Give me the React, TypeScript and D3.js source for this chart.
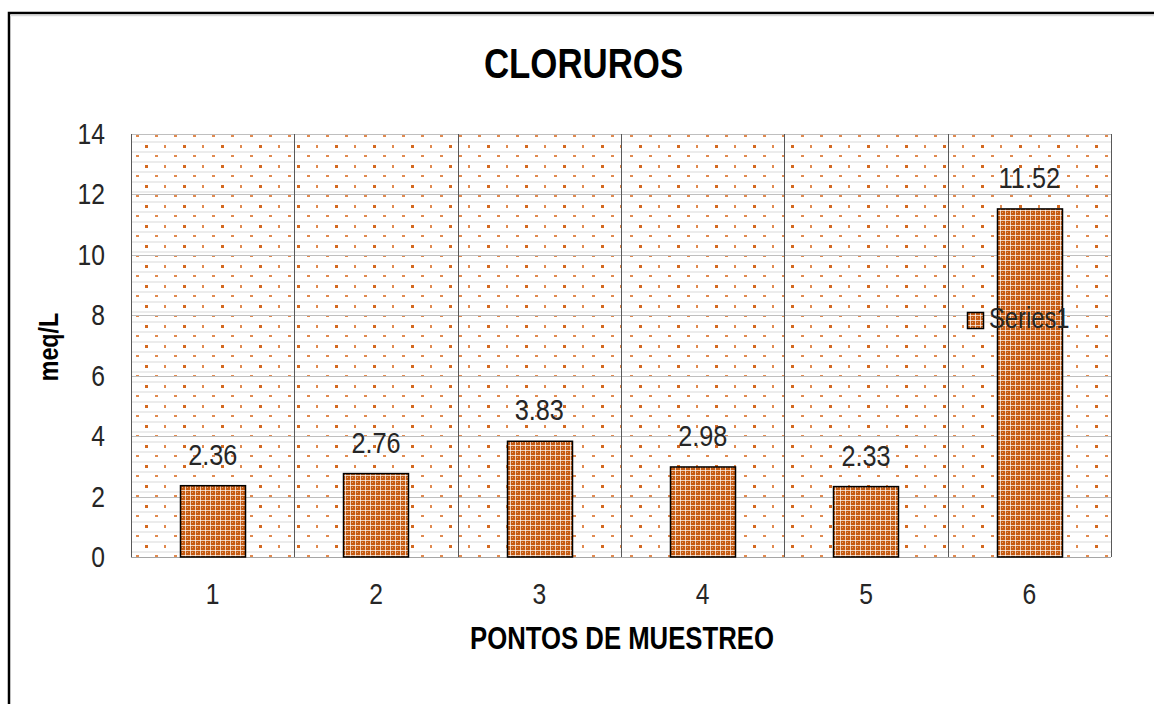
import React from "react";
import * as d3 from "d3";

const categories = ["1", "2", "3", "4", "5", "6"];
const values = [2.36, 2.76, 3.83, 2.98, 2.33, 11.52];
const labels = ["2.36", "2.76", "3.83", "2.98", "2.33", "11.52"];
const yTicks = [0, 2, 4, 6, 8, 10, 12, 14];
const seriesName = "Series1";
const title = "CLORUROS";
const xTitle = "PONTOS DE MUESTREO";
const yTitle = "meq/L";

const W = 1154;
const H = 704;
const FONT = "'Liberation Sans Narrow', 'Arial Narrow', 'Liberation Sans', Arial, sans-serif";
const ORANGE = "#c55a11";

type NTProps = {
  x: number;
  y: number;
  size: number;
  sx?: number;
  anchor?: "start" | "middle" | "end";
  bold?: boolean;
  fill?: string;
  rotate?: number;
  children: React.ReactNode;
};

function NText({ x, y, size, sx = 0.84, anchor = "start", bold = false, fill = "#262626", rotate = 0, children }: NTProps) {
  return (
    <g transform={`translate(${x},${y}) rotate(${rotate}) scale(${sx},1)`}>
      <text x={0} y={0} textAnchor={anchor} fontFamily={FONT} fontSize={size} fontWeight={bold ? "bold" : "normal"} fill={fill}>
        {children}
      </text>
    </g>
  );
}

export default function App() {
  const plot = { left: 131, right: 1111, top: 134, bottom: 557 };
  const x = d3.scaleBand<string>().domain(categories).range([plot.left, plot.right]).paddingInner(0).paddingOuter(0);
  const y = d3.scaleLinear().domain([0, 14]).range([plot.bottom, plot.top]);
  const bw = x.bandwidth() * 0.4;
  const bounds = categories.map((c) => x(c) as number).concat([plot.right]);

  return (
    <div style={{ position: "absolute", left: 0, top: 0, width: W, height: H, overflow: "hidden", background: "#fff" }}>
      <svg width={W} height={H} style={{ display: "block" }}>
        <defs>
          <pattern id="bg" patternUnits="userSpaceOnUse" width={38} height={20} x={plot.left} y={plot.top}>
            <rect width={38} height={20} fill="#fff" />
            <rect x={0} y={7} width={38} height={2} fill="#ececec" />
            <rect x={0} y={17} width={38} height={2} fill="#ececec" />
            <rect x={5} y={1} width={3} height={2} fill="#e08a50" />
            <rect x={24} y={1} width={3} height={2} fill="#e08a50" />
            <rect x={14} y={11} width={3} height={3} fill="#d46a22" />
            <rect x={33} y={11} width={2} height={3} fill="#e08a50" />
          </pattern>
          <pattern id="barpat" patternUnits="userSpaceOnUse" width={5} height={5}>
            <rect width={5} height={5} fill={ORANGE} />
            <rect x={0} y={0} width={1} height={5} fill="#ffffff" fillOpacity={0.7} />
            <rect x={0} y={0} width={5} height={1} fill="#ffffff" fillOpacity={0.7} />
            <rect x={2} y={2} width={1} height={1} fill="#ffffff" fillOpacity={0.45} />
          </pattern>
        </defs>

        {/* outer frame */}
        <rect x={9} y={13} width={W + 20} height={H + 20} fill="#fff" stroke="#000" strokeWidth={2.5} />
        <line x1={10} x2={W} y1={15.5} y2={15.5} stroke="#d9d9d9" strokeWidth={1.5} />

        {/* plot background */}
        <rect x={plot.left} y={plot.top} width={plot.right - plot.left} height={plot.bottom - plot.top} fill="url(#bg)" />

        {/* horizontal major gridlines */}
        {yTicks.map((t) => (
          <line key={"g" + t} x1={plot.left} x2={plot.right} y1={Math.round(y(t)) + 0.5} y2={Math.round(y(t)) + 0.5} stroke="#bfbfbf" strokeWidth={1} />
        ))}

        {/* vertical category lines */}
        {bounds.map((b, i) => (
          <line key={"v" + i} x1={Math.round(b) + 0.5} x2={Math.round(b) + 0.5} y1={plot.top} y2={plot.bottom} stroke="#595959" strokeWidth={1} />
        ))}
        <line x1={plot.left} x2={plot.right} y1={plot.bottom + 0.5} y2={plot.bottom + 0.5} stroke="#a6a6a6" strokeWidth={1} />

        {/* bars */}
        {values.map((v, i) => {
          const cx = (x(categories[i]) as number) + x.bandwidth() / 2;
          return (
            <rect key={"b" + i} x={Math.round(cx - bw / 2) + 0.5} y={y(v)} width={Math.round(bw)} height={plot.bottom - y(v)} fill="url(#barpat)" stroke="#000" strokeWidth={1.5} />
          );
        })}

        {/* data labels */}
        {values.map((v, i) => {
          const cx = (x(categories[i]) as number) + x.bandwidth() / 2;
          return (
            <NText key={"l" + i} x={cx} y={y(v) - 21} size={29} sx={0.87} anchor="middle">
              {labels[i]}
            </NText>
          );
        })}

        {/* y tick labels */}
        {yTicks.map((t) => (
          <NText key={"yt" + t} x={105} y={y(t) + 10} size={29} sx={0.85} anchor="end">
            {t}
          </NText>
        ))}

        {/* x tick labels */}
        {categories.map((c) => (
          <NText key={"xt" + c} x={(x(c) as number) + x.bandwidth() / 2} y={604} size={29} sx={0.85} anchor="middle">
            {c}
          </NText>
        ))}

        {/* titles */}
        <NText x={583.5} y={78} size={43} sx={0.81} anchor="middle" bold fill="#000">
          {title}
        </NText>
        <NText x={622} y={649} size={31} sx={0.83} anchor="middle" bold fill="#000">
          {xTitle}
        </NText>
        <NText x={58} y={347} size={28} sx={0.83} anchor="middle" bold fill="#000" rotate={-90}>
          {yTitle}
        </NText>

        {/* legend */}
        <rect x={967.5} y={312.5} width={16} height={16} fill="url(#barpat)" stroke="#000" strokeWidth={1.5} />
        <NText x={989} y={328} size={29} sx={0.82}>
          {seriesName}
        </NText>
      </svg>
    </div>
  );
}
